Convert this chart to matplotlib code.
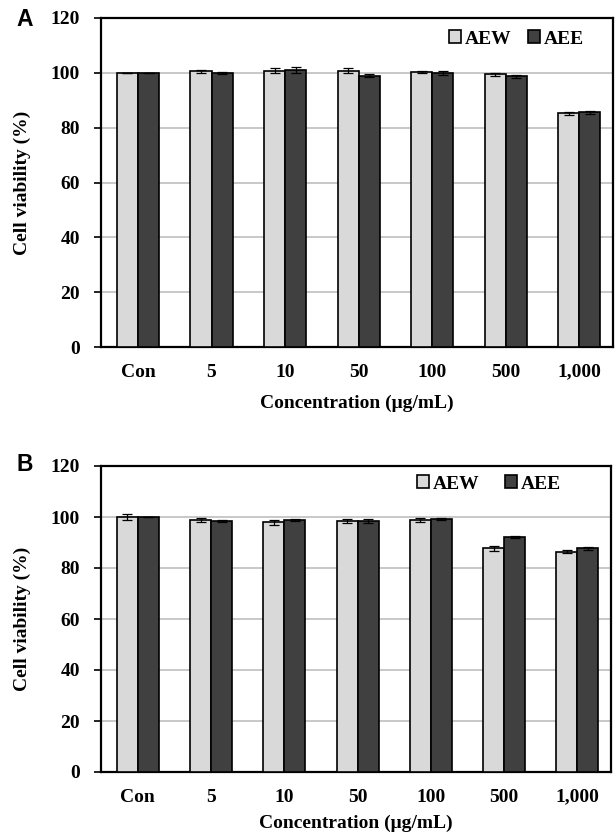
import matplotlib
matplotlib.use("Agg")
import matplotlib.pyplot as plt
import numpy as np

categories = ["Con", "5", "10", "50", "100", "500", "1,000"]

a_aew = [100.0, 100.5, 100.8, 100.8, 100.2, 99.5, 85.2]
a_aew_err = [0.0, 0.7, 0.9, 1.0, 0.4, 0.5, 0.6]
a_aee = [100.0, 100.0, 101.1, 99.0, 99.9, 98.7, 85.6]
a_aee_err = [0.0, 0.4, 1.0, 0.6, 0.6, 0.6, 0.6]

b_aew = [100.0, 98.8, 97.9, 98.5, 98.8, 87.7, 86.4]
b_aew_err = [1.0, 0.8, 0.9, 0.7, 0.9, 0.9, 0.7]
b_aee = [100.0, 98.4, 98.8, 98.4, 99.2, 92.1, 87.7]
b_aee_err = [0.0, 0.4, 0.3, 0.7, 0.3, 0.4, 0.7]

series_names = ["AEW", "AEE"]
yticks = [0, 20, 40, 60, 80, 100, 120]

plt.rcParams['font.family'] = ['Liberation Serif', 'DejaVu Serif']
plt.rcParams['font.weight'] = 'bold'

W, H = 616, 835
fig = plt.figure(figsize=(W / 100, H / 100), dpi=100)

LIGHT = "#d9d9d9"
DARK = "#404040"
FS = 14


def px(x0, y0, x1, y1):
    return [x0 / W, 1 - y1 / H, (x1 - x0) / W, (y1 - y0) / H]


def panel(rect, aew, aew_err, aee, aee_err, letter, letter_pos, leg_pos, colsp, tick_pad_y, xlabel_y):
    ax = fig.add_axes(rect)
    x = np.arange(len(categories))
    bw = 0.286
    ax.bar(x - bw / 2, aew, bw, color=LIGHT, edgecolor="black", linewidth=1.2,
           label=series_names[0], zorder=3)
    ax.bar(x + bw / 2, aee, bw, color=DARK, edgecolor="black", linewidth=1.2,
           label=series_names[1], zorder=3)
    ax.errorbar(x - bw / 2, aew, yerr=aew_err, fmt="none", ecolor="black",
                elinewidth=0.9, capsize=3.5, capthick=0.9, zorder=4)
    ax.errorbar(x + bw / 2, aee, yerr=aee_err, fmt="none", ecolor="black",
                elinewidth=0.9, capsize=3.5, capthick=0.9, zorder=4)
    ax.set_ylim(0, 120)
    ax.set_xlim(-0.503, 6.46)
    ax.set_yticks(yticks)
    ax.set_yticklabels([str(t) for t in yticks], fontsize=FS, fontweight="bold")
    ax.set_xticks(x)
    ax.set_xticklabels(categories, fontsize=FS, fontweight="bold")
    ax.tick_params(axis="x", length=0, pad=tick_pad_y)
    ax.tick_params(axis="y", length=5, width=1.2, pad=10, direction="out")
    ax.yaxis.grid(True, color="#bfbfbf", linewidth=1.2, zorder=0)
    ax.set_axisbelow(True)
    for s in ax.spines.values():
        s.set_linewidth(1.6)
        s.set_color("black")
    ax.set_ylabel("Cell viability (%)", fontsize=FS, fontweight="bold")
    ax.yaxis.label.set_va("center")
    ax.yaxis.set_label_coords(-(101 - 22) / (rect[2] * W), 0.5)
    ax.set_xlabel("Concentration (μg/mL)", fontsize=FS, fontweight="bold")
    ax.xaxis.label.set_va("center")
    ax.xaxis.set_label_coords(0.5, -xlabel_y / (rect[3] * H))
    ax.legend(loc="center right", ncol=2, frameon=False,
              bbox_to_anchor=(leg_pos[0] / W, 1 - leg_pos[1] / H),
              bbox_transform=fig.transFigure,
              handlelength=0.6, handleheight=0.6, handletextpad=0.2,
              columnspacing=colsp, borderpad=0, borderaxespad=0,
              prop={"family": "Liberation Serif", "weight": "bold", "size": FS})
    fig.text(letter_pos[0] / W, 1 - letter_pos[1] / H, letter, fontsize=16.5,
             fontweight="bold", family="Liberation Sans", ha="center", va="center")
    return ax


panel(px(101, 18, 613, 347), a_aew, a_aew_err, a_aee, a_aee_err, "A",
      (25, 19), (584, 39), 0.88, 12, 56)
panel(px(101, 466, 611, 772), b_aew, b_aew_err, b_aee, b_aee_err, "B",
      (25, 465), (561, 484), 1.34, 12, 51)

fig.savefig("out.png", dpi=100)
